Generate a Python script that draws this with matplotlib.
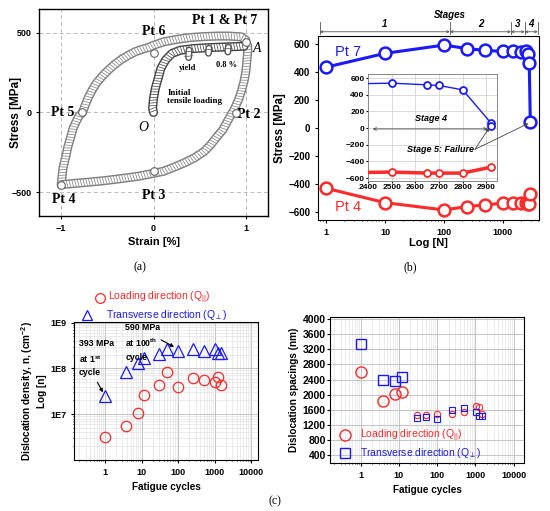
import matplotlib
matplotlib.use('Agg')
import matplotlib.pyplot as plt
import matplotlib.patheffects as pe
from matplotlib.lines import Line2D
from matplotlib.transforms import blended_transform_factory

plt.rcParams['font.family'] = ['Liberation Sans', 'DejaVu Sans']
plt.rcParams['mathtext.default'] = 'regular'

# ---- (a) hysteresis loop
up_x = [-1.0, -0.99, -0.98, -0.96, -0.945, -0.93, -0.91, -0.89, -0.87, -0.84, -0.81, -0.77,
        -0.74, -0.71, -0.665, -0.62, -0.555, -0.49, -0.42, -0.35, -0.27, -0.20, -0.13, -0.055,
        0.0, 0.11, 0.26, 0.40, 0.55, 0.69, 0.82, 0.95, 1.0]
up_y = [-455, -400, -348, -300, -265, -220, -181, -140, -98, -60, -25, 0,
        45, 89, 140, 183, 228, 266, 302, 333, 360, 381, 396, 408,
        422, 444, 460, 471, 477, 480, 480, 475, 455]
lo_x = [1.02, 1.02, 1.01, 1.0, 0.98, 0.95, 0.92, 0.88, 0.84, 0.80, 0.75, 0.69, 0.62, 0.55,
        0.44, 0.33, 0.22, 0.11, 0.0, -0.16, -0.35, -0.53, -0.71, -0.89, -0.98]
lo_y = [420, 381, 319, 256, 194, 131, 79, 27, -15, -56, -109, -150, -202, -244,
        -286, -317, -344, -369, -382, -400, -415, -428, -438, -447, -452]
ini_x = [0.0, -0.01, 0.0, 0.02, 0.05, 0.08, 0.13, 0.20, 0.29, 0.44, 0.62, 0.80, 0.98]
ini_y = [0, 27, 89, 152, 214, 277, 329, 371, 391, 402, 408, 412, 416]
dip_x = [[0.385, 0.38], [0.60, 0.595], [0.81, 0.805]]
dip_y = [[392, 345], [404, 372], [410, 380]]
pt_x = [1.0, 0.89, 0.0, -1.0, -0.77, 0.0]
pt_y = [440, -6, -365, -455, 0, 375]

# ---- (b) peak stresses
N_cyc = [1, 10, 100, 250, 500, 1000, 1500, 2000, 2500, 2650, 2800, 2920]
pt7 = [432, 531, 590, 565, 552, 545, 545, 540, 548, 525, 460, 40]
pt4 = [-433, -536, -588, -564, -552, -540, -540, -540, -540, -545, -545, -475]
stage_edges = [0.78, 126, 1370, 2350, 3900]
stage_names = ['1', '2', '3', '4']
ins_N = [2400, 2500, 2650, 2700, 2800, 2920]
ins_pt7 = [535, 540, 520, 512, 460, 60]
ins_pt4 = [-532, -528, -540, -540, -540, -468]

# ---- (c) dislocation density / spacing
dd_N = [1, 3.7, 7.8, 11.6, 30, 51, 100, 256, 510, 1000, 1230, 1500]
dd_par = [3.1e6, 5.6e6, 1.05e7, 2.6e7, 4.3e7, 8.2e7, 3.9e7, 6.3e7, 5.6e7, 5.1e7, 6.6e7, 4.3e7]
dd_perp = [2.5e7, 8.3e7, 1.28e8, 1.65e8, 2.1e8, 2.7e8, 2.4e8, 2.6e8, 2.4e8, 2.7e8, 2.2e8, 2.2e8]
sp_N = [1, 3.9, 7.9, 11.7, 30, 50, 100, 246, 507, 1020, 1240, 1520]
sp_par = [2600, 1826, 2029, 2064, 1474, 1474, 1500, 1500, 1536, 1712, 1677, 1500]
sp_perp = [3340, 2398, 2372, 2469, 1386, 1413, 1360, 1606, 1650, 1545, 1430, 1430]

RED = '#ff2a2a'
BLUE = '#1a1aff'
W, H = 550, 511
fig = plt.figure(figsize=(W / 100, H / 100), dpi=100)


def ax_px(l, t, r, b):
    return fig.add_axes([l / W, 1 - b / H, (r - l) / W, (b - t) / H])


def chain(ax, x, y, edge, z=3, w=6.5):
    ax.plot(x, y, color='white', lw=w - 2, solid_capstyle='round', zorder=z,
            path_effects=[pe.Stroke(linewidth=w, foreground=edge), pe.Normal(),
                          pe.TickedStroke(spacing=2.0, angle=100, length=1.5,
                                          linewidth=0.5, foreground=edge),
                          pe.TickedStroke(spacing=2.0, angle=-80, length=1.5,
                                          linewidth=0.5, foreground=edge)])


bold = dict(fontweight='bold')
serif = ['Liberation Serif', 'DejaVu Serif']

# ================= (a)
axa = ax_px(39, 9, 268, 216)
axa.set_xlim(-1.24, 1.24)
axa.set_ylim(-650, 650)
axa.set_xticks([-1, 0, 1])
axa.set_yticks([-500, 0, 500])
axa.grid(True, ls=(0, (4, 3)), color='#bbbbbb', lw=0.7)
axa.tick_params(labelsize=6.5, length=2)
for lab in axa.get_xticklabels() + axa.get_yticklabels():
    lab.set_fontweight('bold')
for s in axa.spines.values():
    s.set_linewidth(1.0)
chain(axa, up_x, up_y, '#808080')
chain(axa, lo_x, lo_y, '#808080')
chain(axa, ini_x, ini_y, '#444444', z=4)
for dx, dy in zip(dip_x, dip_y):
    chain(axa, dx, dy, '#555555', z=4, w=5)
axa.plot(pt_x, pt_y, 'o', ms=5.5, mfc='white', mec='#666666', mew=0.8, zorder=5)
axa.set_xlabel('Strain [%]', fontsize=8, labelpad=3, **bold)
axa.set_ylabel('Stress [MPa]', fontsize=8.5, **bold)
axa.yaxis.set_label_coords(-0.075, 0.5)
lbl = dict(family=serif, fontweight='bold', fontsize=10)
axa.text(0.77, 575, 'Pt 1 & Pt 7', ha='center', va='center', **lbl)
axa.text(0.0, 507, 'Pt 6', ha='center', va='center', **lbl)
axa.text(-0.98, 0, 'Pt 5', ha='center', va='center', **lbl)
axa.text(1.03, -15, 'Pt 2', ha='center', va='center', **lbl)
axa.text(0.0, -520, 'Pt 3', ha='center', va='center', **lbl)
axa.text(-0.97, -545, 'Pt 4', ha='center', va='center', **lbl)
axa.text(1.12, 405, 'A', ha='center', va='center', family=serif, style='italic', fontsize=10)
axa.text(-0.11, -95, 'O', ha='center', va='center', family=serif, style='italic', fontsize=10)
axa.text(0.37, 278, 'yield', ha='center', va='center', family=serif, fontweight='bold', fontsize=6)
axa.text(0.79, 300, '0.8 %', ha='center', va='center', family=serif, fontweight='bold', fontsize=6)
axa.text(0.15, 95, 'Initial\ntensile loading', ha='left', va='center', family=serif,
         fontweight='bold', fontsize=6.5, linespacing=1.0)
fig.text(140 / W, 1 - 267 / H, '(a)', ha='center', va='center', family=serif, fontsize=8.5)

# ================= (b)
axb = ax_px(318, 36, 539, 220)
axb.set_xscale('log')
axb.set_xlim(0.73, 4100)
axb.set_ylim(-660, 655)
axb.set_yticks([-600, -400, -200, 0, 200, 400, 600])
axb.set_xticks([1, 10, 100, 1000])
axb.set_xticklabels(['1', '10', '100', '1000'])
axb.tick_params(axis='y', labelsize=7, length=2)
axb.tick_params(axis='x', labelsize=6.5, length=2)
axb.tick_params(axis='x', which='minor', length=1)
for lab in axb.get_xticklabels() + axb.get_yticklabels():
    lab.set_fontweight('bold')
axb.plot(N_cyc, pt7, '-o', color=BLUE, lw=2.2, ms=8.5, mfc='white', mec=BLUE, mew=1.8, zorder=3)
axb.plot(N_cyc, pt4, '-o', color=RED, lw=2.2, ms=8.5, mfc='white', mec=RED, mew=1.8, zorder=3)
axb.text(2.4, 541, 'Pt 7', color=BLUE, fontsize=10.5, ha='center', va='center')
axb.text(2.4, -566, 'Pt 4', color=RED, fontsize=10.5, ha='center', va='center')
axb.set_xlabel('Log [N]', fontsize=8, labelpad=1, **bold)
axb.set_ylabel('Stress [MPa]', fontsize=8.3, labelpad=2, **bold)

tr = blended_transform_factory(axb.transData, axb.transAxes)
for x0, x1, nm in zip(stage_edges[:-1], stage_edges[1:], stage_names):
    axb.annotate('', xy=(x0, 1.023), xytext=(x1, 1.023), xycoords=tr, textcoords=tr,
                 arrowprops=dict(arrowstyle='<->', lw=0.6, color='#555555', shrinkA=0,
                                 shrinkB=0, mutation_scale=4), annotation_clip=False)
    axb.text((x0 * x1) ** 0.5, 1.067, nm, transform=tr, ha='center', va='center',
             fontsize=7, style='italic', **bold)
for xe in stage_edges:
    axb.plot([xe, xe], [1.01, 1.075], transform=tr, color='#555555', lw=0.6, clip_on=False)
axb.text(126, 1.115, 'Stages', transform=tr, ha='center', va='center', fontsize=7,
         style='italic', **bold)
fig.text(410 / W, 1 - 267 / H, '(b)', ha='center', va='center', family=serif, fontsize=8.5)

# inset
axi = ax_px(368, 74, 497, 181)
axi.set_xlim(2410, 2945)
axi.set_ylim(-635, 650)
axi.set_xticks([2400, 2500, 2600, 2700, 2800, 2900])
axi.set_yticks([-600, -400, -200, 0, 200, 400, 600])
axi.grid(True, color='#cccccc', lw=0.5)
axi.tick_params(labelsize=6, length=1.5, pad=1)
for lab in axi.get_xticklabels() + axi.get_yticklabels():
    lab.set_fontweight('bold')
for s in axi.spines.values():
    s.set_color('#888888')
    s.set_linewidth(0.7)
axi.plot(ins_N, ins_pt7, '-o', color=BLUE, lw=1.0, ms=5, mfc='white', mec=BLUE, mew=1.3,
         markevery=range(1, len(ins_N)), zorder=3)
axi.plot([ins_N[-1]], [20], 'o', ms=5, mfc='white', mec=BLUE, mew=1.3, zorder=3)
axi.plot(ins_N, ins_pt4, '-o', color=RED, lw=2.5, ms=5, mfc='white', mec=RED, mew=1.3,
         markevery=range(1, len(ins_N)), zorder=3)
axi.annotate('', xy=(2420, -10), xytext=(2905, -10),
             arrowprops=dict(arrowstyle='<->', lw=0.6, color='#444444', shrinkA=0, shrinkB=0,
                             mutation_scale=5))
axi.text(2665, 110, 'Stage 4', ha='center', va='center', fontsize=6.5, style='italic', **bold)
axi.text(2705, -262, 'Stage 5: Failure', ha='center', va='center', fontsize=6.5,
         style='italic', **bold)
axi.annotate('', xy=(2912, 5), xytext=(2852, -255),
             arrowprops=dict(arrowstyle='-|>', lw=0.6, color='#444444', shrinkA=0, shrinkB=0,
                             mutation_scale=5))
axi.annotate('', xy=(2700, 30), xycoords=axb.transData, xytext=(2852, -255),
             textcoords=axi.transData,
             arrowprops=dict(arrowstyle='-|>', lw=0.6, color='#444444', shrinkA=0, shrinkB=0,
                             mutation_scale=5), annotation_clip=False)

# ================= (c) left
axc = ax_px(74, 322, 258, 460)
axc.set_xscale('log')
axc.set_yscale('log')
axc.set_xlim(0.143, 15100)
axc.set_ylim(1e6, 1.03e9)
axc.grid(True, which='major', color='#bbbbbb', lw=0.6)
axc.grid(True, which='minor', color='#dddddd', lw=0.4)
axc.set_xticks([1, 10, 100, 1000, 10000])
axc.set_xticklabels(['1', '10', '100', '1000', '10000'])
axc.set_yticks([1e7, 1e8, 1e9])
axc.set_yticklabels(['1E7', '1E8', '1E9'])
axc.tick_params(labelsize=6.5, length=2)
axc.tick_params(which='minor', length=1)
for lab in axc.get_xticklabels() + axc.get_yticklabels():
    lab.set_fontweight('bold')
axc.plot(dd_N, dd_par, 'o', ms=7.5, mfc='none', mec=RED, mew=0.9)
axc.plot(dd_N, dd_perp, '^', ms=8, mfc='none', mec=BLUE, mew=0.9)
axc.set_xlabel('Fatigue cycles', fontsize=7.2, labelpad=4, **bold)
axc.set_ylabel('Dislocation density, n, (cm$^{-2}$)\nLog [n]', fontsize=7.2, labelpad=2,
               linespacing=1.3, **bold)
ann = dict(fontsize=6.3, fontweight='bold', va='top', ha='left', linespacing=1.5)
axc.text(0.19, 4.3e8, '393 MPa\nat 1$^{st}$\ncycle', **ann)
axc.annotate('', xy=(0.88, 3.0e7), xytext=(0.62, 5.0e7),
             arrowprops=dict(arrowstyle='-|>', lw=0.8, color='black', mutation_scale=5,
                             shrinkA=0, shrinkB=0))
axc.text(3.6, 1.0e9, '590 MPa\nat 100$^{th}$\ncycle', **ann)
axc.annotate('', xy=(77, 2.95e8), xytext=(34, 4.2e8),
             arrowprops=dict(arrowstyle='-|>', lw=0.8, color='black', mutation_scale=5,
                             shrinkA=0, shrinkB=0))
fig.add_artist(Line2D([100 / W], [1 - 297.5 / H], marker='o', ms=7, mfc='none', mec=RED,
                      mew=0.9, transform=fig.transFigure))
fig.text(108 / W, 1 - 297.5 / H, 'Loading direction (Q$_{||}$)', color=RED, fontsize=7.5,
         ha='left', va='center')
fig.add_artist(Line2D([87 / W], [1 - 315 / H], marker='^', ms=7.5, mfc='none', mec=BLUE,
                      mew=0.9, transform=fig.transFigure))
fig.text(106 / W, 1 - 315 / H, 'Transverse direction (Q$_{\\perp}$)', color=BLUE,
         fontsize=7.5, ha='left', va='center')

# ================= (c) right
axd = ax_px(330, 317, 524, 463)
axd.set_xscale('log')
axd.set_xlim(0.158, 18600)
axd.set_ylim(200, 4050)
axd.set_yticks(range(400, 4001, 400))
axd.set_xticks([1, 10, 100, 1000, 10000])
axd.set_xticklabels(['1', '10', '100', '1000', '10000'])
axd.grid(True, which='major', color='#bbbbbb', lw=0.6)
axd.grid(True, which='minor', axis='x', color='#dddddd', lw=0.4)
axd.tick_params(axis='y', labelsize=7.5, length=2, pad=1)
axd.tick_params(axis='x', labelsize=6.5, length=2)
axd.tick_params(which='minor', length=1)
for lab in axd.get_xticklabels() + axd.get_yticklabels():
    lab.set_fontweight('bold')
axd.plot(sp_N[:4], sp_par[:4], 'o', ms=8, mfc='none', mec=RED, mew=1.0)
axd.plot(sp_N[4:], sp_par[4:], 'o', ms=4.5, mfc='none', mec=RED, mew=0.8)
axd.plot(sp_N[:4], sp_perp[:4], 's', ms=7.5, mfc='none', mec=BLUE, mew=1.0)
axd.plot(sp_N[4:], sp_perp[4:], 's', ms=4.5, mfc='none', mec=BLUE, mew=0.8)
axd.plot([0.38], [930], 'o', ms=8, mfc='none', mec=RED, mew=1.0)
axd.text(0.95, 930, 'Loading direction (Q$_{||}$)', color=RED, fontsize=7.5, va='center')
axd.plot([0.38], [470], 's', ms=7.5, mfc='none', mec=BLUE, mew=1.0)
axd.text(0.95, 470, 'Transverse direction (Q$_{\\perp}$)', color=BLUE, fontsize=7.5,
         va='center')
axd.set_xlabel('Fatigue cycles', fontsize=7.2, labelpad=4, **bold)
axd.set_ylabel('Dislocation spacings (nm)', fontsize=7.2, labelpad=3, **bold)
fig.text(275 / W, 1 - 501 / H, '(c)', ha='center', va='center', family=serif, fontsize=8.5)

fig.savefig('out.png', dpi=100)
